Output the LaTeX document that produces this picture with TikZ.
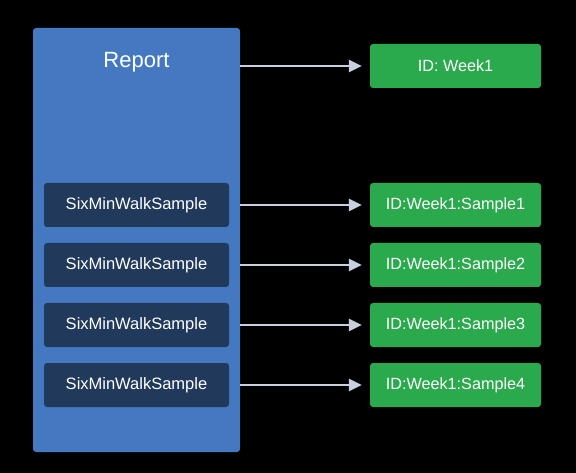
\documentclass[tikz,border=0pt]{standalone}
\usepackage{fontspec}
\setmainfont{Liberation Sans}
\usetikzlibrary{arrows.meta}

\definecolor{reportblue}{RGB}{68,120,193}
\definecolor{samplenavy}{RGB}{33,58,92}
\definecolor{idgreen}{RGB}{42,170,76}
\definecolor{arrowgrey}{RGB}{200,208,222}

\begin{document}
\begin{tikzpicture}[x=1pt,y=-1pt,
    report/.style={fill=reportblue,rounded corners=3pt,minimum width=207pt,minimum height=424pt,inner sep=0pt},
    sample/.style={fill=samplenavy,rounded corners=3pt,minimum width=185pt,minimum height=44pt,inner sep=0pt,
      text=white,font=\fontsize{16.5}{19}\selectfont},
    ident/.style={fill=idgreen,rounded corners=3pt,minimum width=171pt,minimum height=44pt,inner sep=0pt,
      text=white,font=\fontsize{16.2}{19}\selectfont},
    link/.style={draw=arrowgrey,line width=2.5pt,-{Triangle[length=13pt,width=12pt]},shorten >=8pt}]
  \fill[black] (0,0) rectangle (576,473);
  \useasboundingbox (0,0) rectangle (576,473);

  \node[report] (rep) at (136.5,240) {};
  \node[text=white,font=\fontsize{22}{26}\selectfont] (title) at (136.5,62) {Report};

  \node[ident] (id0) at (455.5,66) {ID: Week1};
  \draw[link] (rep.east |- id0) -- (id0);

  \foreach \i in {1,...,4} {
    \pgfmathsetmacro{\ypos}{205+60*(\i-1)}
    \node[sample] (s\i) at (136.5,\ypos) {SixMinWalkSample};
    \node[ident] (id\i) at (455.5,\ypos) {ID:Week1:Sample\i};
    \draw[link] (rep.east |- s\i) -- (id\i);
  }
\end{tikzpicture}
\end{document}
